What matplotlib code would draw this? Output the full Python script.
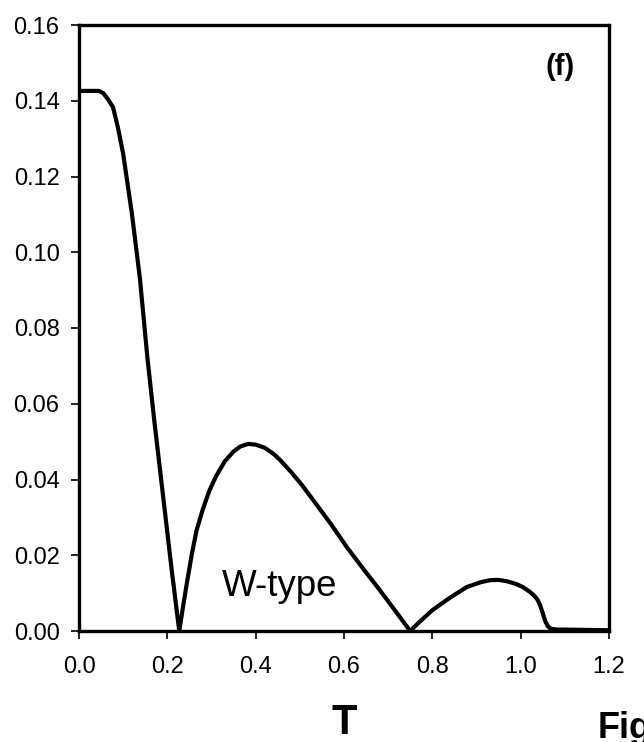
import matplotlib
matplotlib.use("Agg")
import matplotlib.pyplot as plt
from matplotlib.ticker import FormatStrFormatter

plt.rcParams['font.family'] = ['Liberation Sans', 'DejaVu Sans']

# curve
t_vals = [0.0, 0.02, 0.045, 0.055, 0.065, 0.077, 0.088, 0.10, 0.11, 0.12,
          0.138, 0.155, 0.17, 0.19, 0.21, 0.227,
          0.235, 0.244, 0.255, 0.266, 0.28, 0.295, 0.31, 0.33, 0.35, 0.365,
          0.383, 0.40, 0.42, 0.44, 0.455, 0.48, 0.505, 0.53, 0.57, 0.606,
          0.645, 0.681, 0.715, 0.75,
          0.77, 0.80, 0.84, 0.878, 0.91, 0.93, 0.95, 0.97, 0.99, 1.005, 1.02,
          1.03, 1.038, 1.044, 1.05, 1.056, 1.062, 1.068, 1.08, 1.2]
v_vals = [0.1426, 0.1426, 0.1426, 0.1420, 0.1405, 0.1383, 0.133, 0.126, 0.118,
          0.110, 0.093, 0.072, 0.056, 0.036, 0.016, 0.0,
          0.006, 0.0125, 0.020, 0.0265, 0.032, 0.037, 0.0408, 0.0448, 0.0474,
          0.0487, 0.0494, 0.0492, 0.0484, 0.0468, 0.0452, 0.042, 0.0385,
          0.0346, 0.0283, 0.0222, 0.0162, 0.0108, 0.0055, 0.0,
          0.0023, 0.0055, 0.0088, 0.0116, 0.0129, 0.0134, 0.0135, 0.0131,
          0.0124, 0.0116, 0.0104, 0.0094, 0.0083, 0.0068, 0.0047, 0.0025,
          0.0012, 0.0006, 0.0004, 0.0002]

x_ticks = [0.0, 0.2, 0.4, 0.6, 0.8, 1.0, 1.2]
y_ticks = [0.00, 0.02, 0.04, 0.06, 0.08, 0.10, 0.12, 0.14, 0.16]

fig = plt.figure(figsize=(6.44, 7.42), dpi=100)
ax = fig.add_axes([79 / 644, 111 / 742, 530 / 644, 606 / 742])

ax.plot(t_vals, v_vals, color='black', lw=3.0, solid_joinstyle='round',
        solid_capstyle='round')

ax.set_xlim(0, 1.2)
ax.set_ylim(0, 0.16)
ax.set_xticks(x_ticks)
ax.set_yticks(y_ticks)
ax.xaxis.set_major_formatter(FormatStrFormatter('%.1f'))
ax.yaxis.set_major_formatter(FormatStrFormatter('%.2f'))
ax.tick_params(direction='out', length=6, width=1.2, labelsize=17)
ax.tick_params(axis='y', pad=8)
ax.tick_params(axis='x', pad=12)
for sp in ax.spines.values():
    sp.set_linewidth(2.4)

ax.text(1.09, 0.1489, '(f)', fontsize=21, fontweight='bold', ha='center', va='center')
ax.text(0.324, 0.0092, 'W-type', fontsize=26.5, ha='left', va='baseline')

fig.text(344 / 644, 1 - 734 / 742, 'T', fontsize=30, fontweight='bold',
         ha='center', va='baseline')
fig.text(598 / 644, 1 - 711 / 742, 'Fig', fontsize=26, fontweight='bold',
         ha='left', va='top')

fig.savefig('out.png', dpi=100)
